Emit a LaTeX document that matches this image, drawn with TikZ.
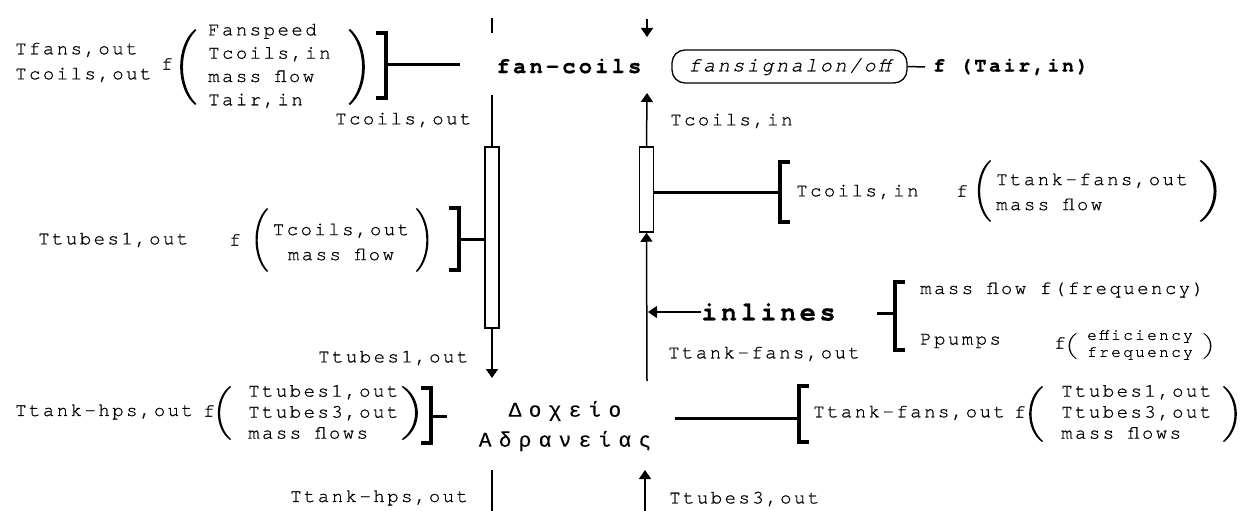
\documentclass[tikz,border=0pt]{standalone}
\usepackage{fontspec}
\usetikzlibrary{arrows.meta}
% Courier-style typewriter face with slightly widened letter spacing, plus a mono face for Greek
\newfontfamily\typew{texgyrecursor-regular.otf}[BoldFont=texgyrecursor-bold.otf,ItalicFont=texgyrecursor-italic.otf,LetterSpace=13,FakeBold=0.7]
\newfontfamily\greekmono{Liberation Mono}[LetterSpace=35,FakeBold=0.3]

\begin{document}
\begin{tikzpicture}[x=1pt,y=-1pt,
  txt/.style={inner sep=0pt, font=\typew\fontsize{19}{22}\selectfont},
  flow/.style={line width=1.5pt},
  arr/.style={flow,-{Triangle[length=9pt,width=12pt]}},
  link/.style={line width=3pt},
  brk/.style={line width=3.5pt, line join=miter},
  pipe/.style={draw, line width=1.5pt, fill=white, inner sep=0pt, minimum width=14pt},
  paren/.pic={\fill (0,-1) .. controls (-0.9,-0.55) and (-0.9,0.55) .. (0,1)
      -- (0.06,0.97) .. controls (-0.75,0.5) and (-0.75,-0.5) .. (0.06,-0.97) -- cycle;}
]
\fill[white] (0,0) rectangle (1243,511);
\useasboundingbox (0,0) rectangle (1243,511);

% ---------- fan-coils ----------
\node[txt,anchor=west] (tfans) at (15,50) {Tfans,out};
\node[txt,anchor=west] (tcoilsA) at (15,75) {Tcoils,out};
\node[txt] (fA) at (167,64) {f};
\pic[xscale=22,yscale=38] at (195,67) {paren};
\node[txt,anchor=west,align=left,font=\typew\fontsize{19}{23.3}\selectfont] (fanargs) at (208,66)
  {Fanspeed\\Tcoils,in\\mass flow\\Tair,in};
\pic[xscale=-22,yscale=38] at (350,67) {paren};
\draw[brk] (376,33) -- (386,33) -- (386,98) -- (376,98);
\coordinate (brA) at (386,65);
\coordinate (linkA) at (460,65);
\draw[link] (brA) -- (linkA);

\node[txt,font=\typew\bfseries\fontsize{22.5}{24}\selectfont] (fancoils) at (569,66) {fan-coils};
\coordinate (fcTop1) at (492,18);
\coordinate (fcTop2) at (492,33);
\draw[flow] (fcTop1) -- (fcTop2);
\coordinate (supTop) at (647,19);
\coordinate (supTip) at (647,37);
\draw[arr] (supTop) -- (supTip);

\node[draw,line width=1.3pt,rounded corners=13pt,minimum width=235pt,minimum height=33pt,inner sep=0pt,
  font=\typew\itshape\fontsize{20}{22}\selectfont] (sig) at (789.5,66.5) {fansignalon/off};
\coordinate (sigEnd) at (925,67);
\draw[flow] (sig.east) -- (sigEnd);
\node[txt,anchor=west,font=\typew\bfseries\fontsize{20}{22}\selectfont] (tairf) at (933,67) {f (Tair,in)};

% ---------- pipes ----------
\node[pipe,minimum height=181pt] (pipeL) at (492,237.5) {};
\node[pipe,minimum height=85pt] (pipeR) at (646.5,189.5) {};
\coordinate (fcBot) at (492,95);
\draw[flow] (fcBot) -- (pipeL.north);
\coordinate (coilsTip) at (647,93);
\draw[arr] (pipeR.north) -- (coilsTip);
\coordinate (t1Tip) at (492,378);
\draw[arr] (pipeL.south) -- (t1Tip);
\coordinate (inBot) at (647,381);
\draw[arr] (inBot) -- (pipeR.south);

\node[txt,anchor=west] (lcoilsOut) at (335,120) {Tcoils,out};
\node[txt,anchor=west] (lcoilsIn) at (670,121) {Tcoils,in};
\node[txt,anchor=west] (lt1) at (318,358) {Ttubes1,out};
\node[txt,anchor=west] (ltf) at (668,354) {Ttank-fans,out};

% ---------- tubes 1 ----------
\node[txt,anchor=west] (tt1) at (38,240) {Ttubes1,out};
\node[txt] (fB) at (235,240) {f};
\pic[xscale=17,yscale=32] at (267,240) {paren};
\node[txt,align=center,font=\typew\fontsize{19}{25}\selectfont] (coilsargs) at (341,242) {Tcoils,out\\mass flow};
\pic[xscale=-17,yscale=32] at (417,240) {paren};
\draw[brk] (449,208) -- (459,208) -- (459,270) -- (449,270);
\coordinate (brB) at (459,239);
\draw[link] (brB) -- (brB -| pipeL.west);

% ---------- coils inlet ----------
\coordinate (brC) at (780,192);
\draw[link] (brC -| pipeR.east) -- (brC);
\draw[brk] (790,162) -- (780,162) -- (780,222) -- (790,222);
\node[txt,anchor=west] (rcoilsIn) at (796,192) {Tcoils,in};
\node[txt] (fC) at (962,191) {f};
\pic[xscale=18,yscale=31] at (990,191) {paren};
\node[txt,anchor=west,align=left,font=\typew\fontsize{19}{25}\selectfont] (fansargs) at (996,192) {Ttank-fans,out\\mass flow};
\pic[xscale=-23,yscale=31] at (1201,191) {paren};

% ---------- inlines ----------
\node[txt,anchor=west,font=\typew\bfseries\fontsize{27}{29}\selectfont] (inlines) at (701,312) {inlines};
\coordinate (inTip) at (648,312);
\draw[arr] (inlines.west) -- (inTip);
\coordinate (stubD) at (877,313);
\coordinate (brD) at (895,313);
\draw[link] (stubD) -- (brD);
\draw[brk] (905,282) -- (895,282) -- (895,350) -- (905,350);
\node[txt,anchor=west] (mflow) at (920,290) {mass flow f(frequency)};
\node[txt,anchor=west] (ppumps) at (920,341) {Ppumps};
\node[txt] (fD) at (1060,343) {f};
\pic[xscale=11,yscale=13] at (1076,346) {paren};
\node[txt,align=center,font=\typew\addfontfeature{LetterSpace=15}\fontsize{16}{17}\selectfont] (effargs) at (1140,345) {efficiency\\frequency};
\pic[xscale=-11,yscale=13] at (1204,346) {paren};

% ---------- tank ----------
\node[inner sep=0pt,align=center,font=\greekmono\fontsize{21}{30}\selectfont] (tank) at (565,426) {Δοχείο\\Αδρανείας};

\node[txt,anchor=west] (tth) at (15,412) {Ttank-hps,out};
\node[txt] (fE) at (209,411) {f};
\pic[xscale=18,yscale=27] at (230,413) {paren};
\node[txt,anchor=west,align=left,font=\typew\fontsize{19}{21}\selectfont] (hpsargs) at (248,412)
  {Ttubes1,out\\Ttubes3,out\\mass flows};
\pic[xscale=-22,yscale=27] at (403,413) {paren};
\draw[brk] (421,388) -- (431,388) -- (431,443) -- (421,443);
\coordinate (brE) at (431,416);
\coordinate (stubE) at (447,416);
\draw[link] (brE) -- (stubE);

\coordinate (linkF) at (675,418);
\coordinate (brF) at (799,418);
\draw[link] (linkF) -- (brF);
\draw[brk] (809,386) -- (799,386) -- (799,442) -- (809,442);
\node[txt,anchor=west] (ttf) at (813,413) {Ttank-fans,out};
\node[txt] (fF) at (1020,412) {f};
\pic[xscale=19,yscale=28] at (1042,414) {paren};
\node[txt,anchor=west,align=left,font=\typew\fontsize{19}{21}\selectfont] (fanbargs) at (1061,412)
  {Ttubes1,out\\Ttubes3,out\\mass flows};
\pic[xscale=-19,yscale=28] at (1224,414) {paren};

\coordinate (hpsTop) at (492,470);
\coordinate (hpsBot) at (492,511);
\draw[flow] (hpsTop) -- (hpsBot);
\coordinate (t3Bot) at (645,511);
\coordinate (t3Tip) at (645,470);
\draw[arr] (t3Bot) -- (t3Tip);
\node[txt,anchor=west] (lhps) at (290,498) {Ttank-hps,out};
\node[txt,anchor=west] (lt3) at (669,499) {Ttubes3,out};
\end{tikzpicture}
\end{document}
